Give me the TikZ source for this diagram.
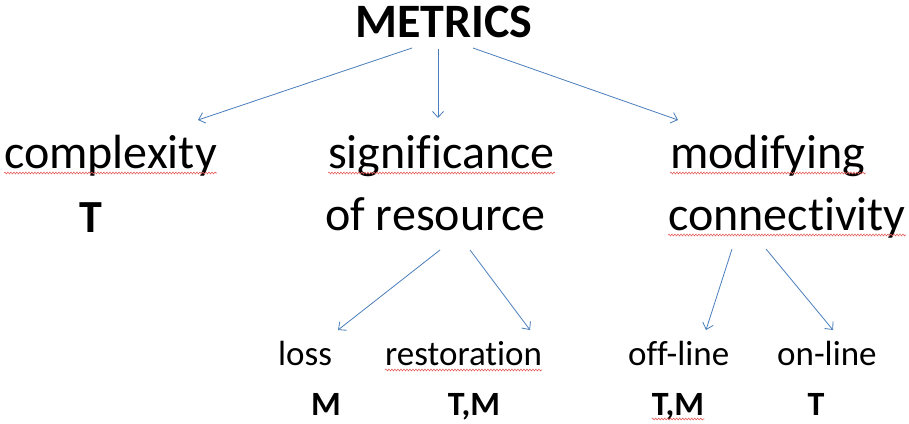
\documentclass[tikz,border=0pt]{standalone}
\usepackage{fontspec}
\setmainfont[Ligatures=NoCommon]{Carlito}
\usetikzlibrary{arrows.meta,decorations.pathmorphing,calc}

% type sizes
\newcommand\titlefont{\fontsize{48}{56}\selectfont\bfseries}
\newcommand\wordfont{\fontsize{48}{56}\selectfont}
\newcommand\leaffont{\fontsize{35}{42}\selectfont}
\newcommand\markfont{\fontsize{34}{40}\selectfont\bfseries}
\newcommand\bigmarkfont{\fontsize{46}{54}\selectfont\bfseries}

\newlength\reswidth
\newlength\offwidth
\newlength\ofwidth

\definecolor{arrowblue}{RGB}{74,126,187}
\definecolor{squiggle}{RGB}{230,95,95}

\tikzset{
  word/.style={inner sep=0pt, anchor=base west, font=\wordfont},
  leaf/.style={inner sep=0pt, anchor=base west, font=\leaffont},
  tag/.style={inner sep=0pt, anchor=base, font=\markfont},
  link/.style={draw=arrowblue, line width=0.8pt,
    -{Straight Barb[length=6pt, width=11pt, line width=0.8pt]}},
  wavy/.style={draw=squiggle, line width=0.6pt,
    decorate, decoration={snake, amplitude=0.9pt, segment length=3pt}},
}

\begin{document}
\begin{tikzpicture}[x=1pt, y=-1pt]
  \fill[white] (0,0) rectangle (909,423);
  \useasboundingbox (0,0) rectangle (909,423);

  \settowidth\reswidth{\wordfont resource}
  \settowidth\ofwidth{\wordfont of}
  \settowidth\offwidth{\leaffont off}

  % root
  \node[inner sep=0pt, anchor=base, font=\titlefont] (metrics) at (444,37) {METRICS};

  % first level
  \node[word] (complexity) at (4,168) {complexity};
  \node[inner sep=0pt, anchor=base, font=\bigmarkfont] (cT) at (91,232) {T};

  \node[word] (significance) at (328,168) {significance};
  \node[word] (ofres) at (325,230) {of resource};

  \node[word] (modifying) at (670,168) {modifying};
  \node[word] (connectivity) at (668,230) {connectivity};

  % second level
  \node[leaf] (loss) at (278,365) {loss};
  \node[leaf] (restoration) at (385,365) {restoration};
  \node[leaf] (offline) at (628,365) {off-line};
  \node[leaf] (online) at (777,365) {on-line};

  \node[tag] (lossM) at (326,415) {M};
  \node[tag] (restTM) at (474,415) {T,M};
  \node[tag] (offTM) at (678,415) {T,M};
  \node[tag] (onT) at (816,415) {T};

  % arrow ends
  \coordinate (m1) at (412,48);
  \coordinate (m2) at (438,49);
  \coordinate (m3) at (473,48);
  \coordinate (c1) at (198,120);
  \coordinate (c2) at (438,118);
  \coordinate (c3) at (678,120);
  \coordinate (r1) at (440,250);
  \coordinate (r2) at (470,250);
  \coordinate (l1) at (338,330);
  \coordinate (l2) at (530,330);
  \coordinate (n1) at (732,249);
  \coordinate (n2) at (766,249);
  \coordinate (o1) at (706,330);
  \coordinate (o2) at (833,330);

  \draw[link] (m1) -- (c1);
  \draw[link] (m2) -- (c2);
  \draw[link] (m3) -- (c3);
  \draw[link] (r1) -- (l1);
  \draw[link] (r2) -- (l2);
  \draw[link] (n1) -- (o1);
  \draw[link] (n2) -- (o2);

  % spelling squiggles
  \draw[wavy] ($(complexity.base west)+(0,5)$) -- ($(complexity.base east)+(0,5)$);
  \draw[wavy] ($(significance.base west)+(0,5)$) -- ($(significance.base east)+(0,5)$);
  \draw[wavy] ($(modifying.base west)+(0,5)$) -- ($(modifying.base east)+(0,5)$);
  \draw[wavy] ($(connectivity.base west)+(0,5)$) -- ($(connectivity.base east)+(0,5)$);
  \draw[wavy] ($(ofres.base west)+(0,5)$) -- ($(ofres.base west)+(\ofwidth,5)$);
  \draw[wavy] ($(ofres.base east)+(-\reswidth,5)$) -- ($(ofres.base east)+(0,5)$);
  \draw[wavy] ($(restoration.base west)+(0,5)$) -- ($(restoration.base east)+(0,5)$);
  \draw[wavy] ($(offline.base west)+(0,5)$) -- ($(offline.base west)+(\offwidth,5)$);
  \draw[wavy] ($(offTM.base west)+(0,4)$) -- ($(offTM.base east)+(0,4)$);
\end{tikzpicture}
\end{document}
